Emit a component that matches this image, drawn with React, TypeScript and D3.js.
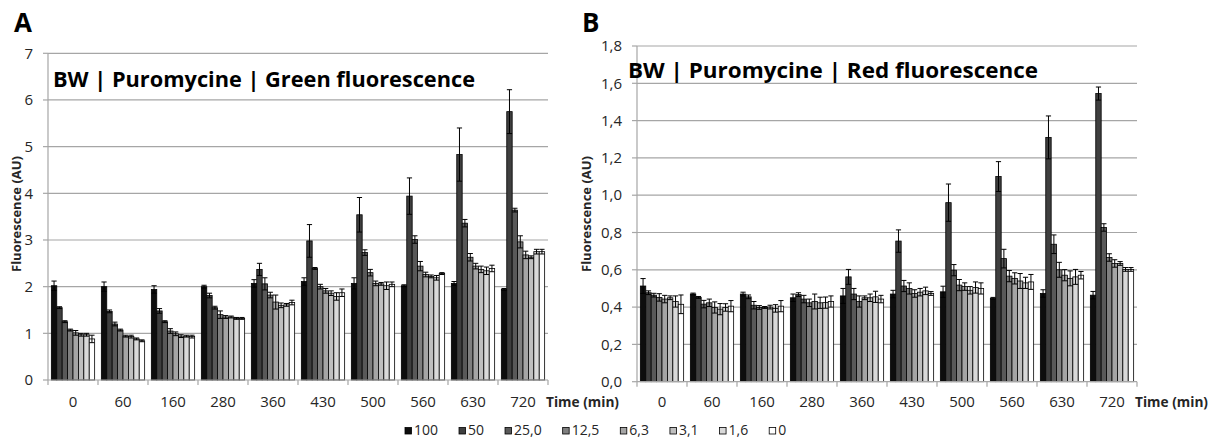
import React from "react";
import * as d3 from "d3";

const times = ["0", "60", "160", "280", "360", "430", "500", "560", "630", "720"];
const doses = ["100", "50", "25,0", "12,5", "6,3", "3,1", "1,6", "0"];
const doseColors = ["#0d0d0d", "#3f3f3f", "#595959", "#7f7f7f", "#a5a5a5", "#bfbfbf", "#d9d9d9", "#ffffff"];

// rows = time points, columns = doses
const greenMeans = [
  [2.02, 1.55, 1.25, 1.07, 1.01, 0.97, 0.97, 0.88],
  [2.0, 1.47, 1.2, 1.07, 0.94, 0.93, 0.88, 0.84],
  [1.94, 1.48, 1.25, 1.05, 0.99, 0.94, 0.94, 0.93],
  [2.0, 1.81, 1.55, 1.4, 1.35, 1.35, 1.32, 1.32],
  [2.07, 2.37, 2.06, 1.82, 1.67, 1.6, 1.61, 1.66],
  [2.11, 2.98, 2.39, 2.0, 1.91, 1.86, 1.79, 1.87],
  [2.07, 3.54, 2.73, 2.3, 2.07, 2.06, 2.02, 2.05],
  [2.02, 3.94, 3.01, 2.44, 2.26, 2.22, 2.19, 2.28],
  [2.07, 4.83, 3.36, 2.63, 2.44, 2.37, 2.34, 2.39],
  [1.94, 5.75, 3.64, 2.96, 2.68, 2.63, 2.75, 2.75],
];
const greenErrors = [
  [0.1, 0.02, 0.02, 0.02, 0.05, 0.03, 0.03, 0.08],
  [0.1, 0.03, 0.04, 0.02, 0.02, 0.03, 0.02, 0.02],
  [0.08, 0.05, 0.02, 0.05, 0.04, 0.03, 0.02, 0.03],
  [0.03, 0.05, 0.03, 0.08, 0.03, 0.02, 0.02, 0.02],
  [0.08, 0.13, 0.13, 0.06, 0.15, 0.05, 0.03, 0.05],
  [0.08, 0.35, 0.02, 0.05, 0.05, 0.05, 0.08, 0.08],
  [0.12, 0.37, 0.06, 0.07, 0.05, 0.03, 0.08, 0.05],
  [0.02, 0.39, 0.08, 0.1, 0.05, 0.03, 0.05, 0.02],
  [0.04, 0.57, 0.08, 0.08, 0.06, 0.07, 0.08, 0.07],
  [0.02, 0.47, 0.04, 0.13, 0.08, 0.03, 0.05, 0.05],
];
const redMeans = [
  [0.513, 0.477, 0.464, 0.452, 0.443, 0.45, 0.43, 0.415],
  [0.47, 0.452, 0.416, 0.423, 0.398, 0.389, 0.398, 0.405],
  [0.47, 0.455, 0.41, 0.398, 0.398, 0.4, 0.393, 0.405],
  [0.45, 0.467, 0.443, 0.423, 0.43, 0.423, 0.424, 0.43],
  [0.46, 0.562, 0.47, 0.43, 0.45, 0.45, 0.455, 0.443],
  [0.47, 0.754, 0.513, 0.5, 0.473, 0.48, 0.487, 0.473],
  [0.482, 0.96, 0.598, 0.518, 0.51, 0.49, 0.505, 0.5],
  [0.447, 1.1, 0.66, 0.566, 0.554, 0.54, 0.53, 0.535],
  [0.473, 1.31, 0.737, 0.6, 0.571, 0.554, 0.562, 0.571],
  [0.464, 1.545, 0.827, 0.666, 0.634, 0.634, 0.602, 0.602],
];
const redErrors = [
  [0.04, 0.01, 0.01, 0.02, 0.02, 0.01, 0.03, 0.05],
  [0.005, 0.005, 0.02, 0.02, 0.03, 0.03, 0.02, 0.03],
  [0.01, 0.01, 0.02, 0.01, 0.005, 0.01, 0.02, 0.03],
  [0.02, 0.01, 0.02, 0.02, 0.04, 0.03, 0.03, 0.03],
  [0.04, 0.04, 0.03, 0.03, 0.01, 0.02, 0.03, 0.02],
  [0.02, 0.06, 0.03, 0.03, 0.02, 0.02, 0.02, 0.01],
  [0.03, 0.1, 0.03, 0.03, 0.02, 0.02, 0.03, 0.03],
  [0.005, 0.08, 0.05, 0.03, 0.03, 0.04, 0.03, 0.04],
  [0.02, 0.115, 0.05, 0.04, 0.03, 0.04, 0.04, 0.02],
  [0.02, 0.035, 0.02, 0.02, 0.02, 0.01, 0.01, 0.01],
];
const greenTicks = [0, 1, 2, 3, 4, 5, 6, 7];
const redTicks = [0, 0.2, 0.4, 0.6, 0.8, 1.0, 1.2, 1.4, 1.6, 1.8];

const FONT = "'Open Sans', 'DejaVu Sans', sans-serif";
const GRID = "#a6a6a6";
const TEXT = "#262626";

type PanelProps = {
  left: number; right: number; top: number; bottom: number;
  yMax: number; ticks: number[]; fmt: (v: number) => string;
  means: number[][]; errors: number[][];
  title: string; titleX: number; titleY: number; titleLen: number;
  letter: string; letterX: number;
  labelX: number; labelY: number;
};

function Panel(p: PanelProps) {
  const x0 = d3.scaleBand<string>().domain(times).range([p.left, p.right]).paddingInner(0.134).paddingOuter(0.067);
  const x1 = d3.scaleBand<string>().domain(doses).range([0, x0.bandwidth()]);
  const y = d3.scaleLinear().domain([0, p.yMax]).range([p.bottom, p.top]);
  const step = (p.right - p.left) / times.length;
  const bw = x1.bandwidth();
  return (
    <g>
      <text x={p.letterX} y={32} fontFamily={FONT} fontWeight="bold" fontSize={26} fill="#000">{p.letter}</text>
      {p.ticks.map((t) => (
        <g key={"g" + t}>
          {t > 0 && <line x1={p.left} x2={p.right} y1={y(t)} y2={y(t)} stroke={GRID} strokeWidth={1.2} />}
          <line x1={p.left - 5} x2={p.left} y1={y(t)} y2={y(t)} stroke={GRID} strokeWidth={1.2} />
          <text x={p.left - 15} y={y(t)} dy="0.35em" textAnchor="end" fontFamily={FONT} fontSize={15} fill={TEXT}>{p.fmt(t)}</text>
        </g>
      ))}
      <line x1={p.left} x2={p.left} y1={y(p.yMax)} y2={p.bottom} stroke={GRID} strokeWidth={1.2} />
      {times.map((t, i) => (
        <g key={"b" + t}>
          {doses.map((d, j) => {
            const v = p.means[i][j];
            const bx = (x0(t) as number) + (x1(d) as number);
            return (
              <rect key={d} x={bx} y={y(v)} width={bw} height={p.bottom - y(v)} fill={doseColors[j]} stroke="#000" strokeWidth={0.8} />
            );
          })}
          {doses.map((d, j) => {
            const v = p.means[i][j];
            const e = p.errors[i][j];
            const cx = (x0(t) as number) + (x1(d) as number) + bw / 2;
            return (
              <g key={"e" + d} stroke="#000" strokeWidth={1}>
                <line x1={cx} x2={cx} y1={y(v - e)} y2={y(v + e)} />
                <line x1={cx - 2.6} x2={cx + 2.6} y1={y(v + e)} y2={y(v + e)} />
                <line x1={cx - 2.6} x2={cx + 2.6} y1={y(v - e)} y2={y(v - e)} />
              </g>
            );
          })}
          <text x={(x0(t) as number) + x0.bandwidth() / 2} y={407} textAnchor="middle" fontFamily={FONT} fontSize={15} fill={TEXT}>{t}</text>
        </g>
      ))}
      <line x1={p.left} x2={p.right} y1={p.bottom} y2={p.bottom} stroke={GRID} strokeWidth={1.2} />
      {d3.range(times.length + 1).map((k) => (
        <line key={"xt" + k} x1={p.left + k * step} x2={p.left + k * step} y1={p.bottom} y2={p.bottom + 5} stroke={GRID} strokeWidth={1.2} />
      ))}
      <text x={p.right - 2} y={407} fontFamily={FONT} fontWeight="bold" fontSize={14} fill={TEXT} textLength={73} lengthAdjust="spacingAndGlyphs">Time (min)</text>
      <text x={p.titleX} y={p.titleY} fontFamily={FONT} fontWeight="bold" fontSize={22} fill="#000" textLength={p.titleLen} lengthAdjust="spacingAndGlyphs">{p.title}</text>
      <text transform={`translate(${p.labelX},${p.labelY}) rotate(-90)`} textAnchor="middle" dy="0.35em" fontFamily={FONT} fontWeight="bold" fontSize={13} fill={TEXT}>Fluorescence (AU)</text>
    </g>
  );
}

function measure(text: string, font: string): number {
  if (typeof document === "undefined") return text.length * 8;
  const c = document.createElement("canvas").getContext("2d");
  if (!c) return text.length * 8;
  c.font = font;
  return c.measureText(text).width;
}

export default function App() {
  const commaFmt = (v: number) => d3.format(".1f")(v).replace(".", ",");
  const legendFont = "14px 'Open Sans'";
  const legendGap = 21;
  const legendItems: { d: string; x: number; c: string }[] = [];
  let lx = 405;
  doses.forEach((d, i) => {
    legendItems.push({ d, x: lx, c: doseColors[i] });
    lx += 9 + measure(d, legendFont) + legendGap;
  });
  return (
    <svg width={1211} height={439} style={{ position: "absolute", left: 0, top: 0, background: "#fff" }}>
      <rect width={1211} height={439} fill="#fff" />
      <Panel left={48} right={548} top={53.3} bottom={380} yMax={7} ticks={greenTicks} fmt={(v) => String(v)}
        means={greenMeans} errors={greenErrors} title="BW | Puromycine | Green fluorescence" titleX={53} titleY={87} titleLen={422}
        letter="A" letterX={14} labelX={16} labelY={214} />
      <Panel left={637} right={1137} top={46} bottom={381.7} yMax={1.8} ticks={redTicks} fmt={commaFmt}
        means={redMeans} errors={redErrors} title="BW | Puromycine | Red fluorescence" titleX={628} titleY={77.5} titleLen={410}
        letter="B" letterX={582} labelX={586} labelY={214} />
      {legendItems.map((it) => (
        <g key={"l" + it.d}>
          <rect x={it.x} y={427.5} width={6.5} height={6.5} fill={it.c} stroke="#000" strokeWidth={0.8} />
          <text x={it.x + 9} y={435} fontFamily={FONT} fontSize={14} fill={TEXT}>{it.d}</text>
        </g>
      ))}
    </svg>
  );
}
